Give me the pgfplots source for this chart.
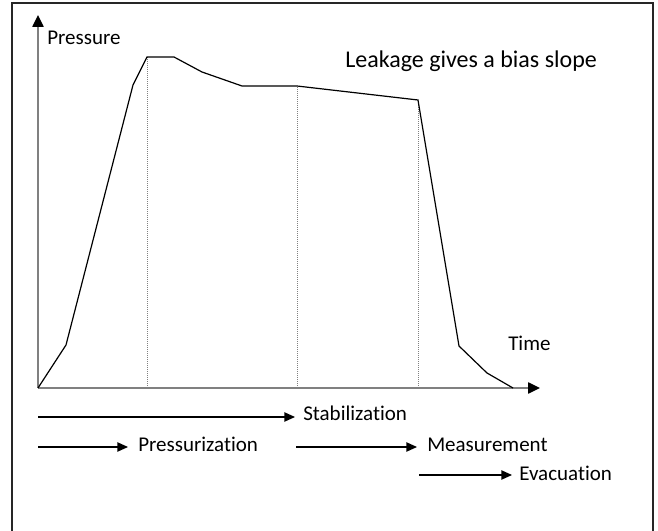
\documentclass[border=0pt]{standalone}
\usepackage{pgfplots}
\pgfplotsset{compat=1.18}
\usepackage{fontspec}
\setmainfont{Carlito}[Ligatures={NoCommon,NoRequired,NoContextual}]
\usetikzlibrary{arrows.meta}
\definecolor{axisgray}{RGB}{128,128,128}
\begin{document}
\begin{tikzpicture}
\begin{scope}[x=0.75pt,y=-0.75pt]
\useasboundingbox (0,0) rectangle (658,531);
\draw[line width=1.9pt, black!85] (12,540) -- (12,3) -- (653,3) -- (653,540);
\end{scope}
\begin{axis}[
  at={(28.5pt,-291pt)}, anchor=south west,
  scale only axis, width=376.5pt, height=279.75pt,
  xmin=0, xmax=502, ymin=0, ymax=373,
  hide axis, clip=false,
]
\draw[axisgray, line width=1.1pt, -{Triangle[black,fill=black,length=9pt,width=8.5pt]}] (axis cs:0,0) -- (axis cs:502,0);
\draw[axisgray, line width=1.1pt, -{Triangle[black,fill=black,length=9pt,width=8.5pt]}] (axis cs:0,0) -- (axis cs:0,373);
\addplot[gray, densely dotted, line width=0.5pt] coordinates {(109,0) (109,331)};
\addplot[gray, densely dotted, line width=0.5pt] coordinates {(259,0) (259,302)};
\addplot[gray, densely dotted, line width=0.5pt] coordinates {(380,0) (380,288)};
\addplot[black, line width=0.9pt, mark=none] coordinates {
(0,0) (28,43) (95,303) (109,331) (136,331) (164,316) (204,302) (259,302) (380,288) (421,42) (449,15) (475,0)};
\end{axis}
\begin{scope}[x=0.75pt,y=-0.75pt, every node/.style={inner sep=0pt, anchor=base west, font=\fontsize{15.75}{18}\selectfont}]
\node at (47,45) {Pressure};
\node[font=\fontsize{18}{21}\selectfont] at (345,68) {Leakage gives a bias slope};
\node at (508,351) {Time};
\node at (303,421) {Stabilization};
\node at (138,452) {Pressurization};
\node at (427,452) {Measurement};
\node at (519,480) {Evacuation};
\tikzset{barr/.style={black, line width=1pt, -{Triangle[length=8pt,width=7pt]}}}
\draw[barr] (38,417) -- (295,417);
\draw[barr] (38,447) -- (128,447);
\draw[barr] (296,447) -- (417,447);
\draw[barr] (419,475) -- (512,475);
\end{scope}
\end{tikzpicture}
\end{document}
